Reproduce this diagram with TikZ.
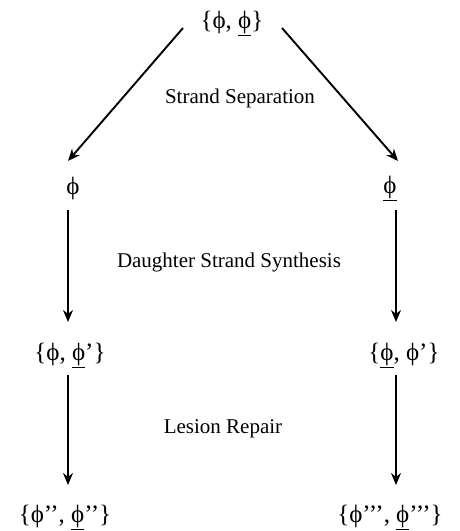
\documentclass[tikz,border=0pt]{standalone}
\usepackage{fontspec}
\setmainfont{Liberation Serif}
\usepackage{tikz}
\usetikzlibrary{arrows.meta,calc}

\begin{document}
\begin{tikzpicture}[x=1pt,y=1pt,
  font=\fontsize{21}{25}\selectfont,
  lbl/.style={inner sep=0pt,font=\fontsize{25}{29}\selectfont},
  sepa/.style={-{Stealth[length=12pt,width=10pt]},line width=1.9pt},
  down/.style={-{Stealth[length=12pt,width=10pt]},line width=1.2pt},
]
  \useasboundingbox (0,0) rectangle (459,531);

  \node[lbl] (top) at (232,508) {\{ϕ, \underline{ϕ}\}};
  \node[lbl] (sepL) at (73,343) {ϕ};
  \node[lbl] (sepR) at (390,343) {\underline{ϕ}};
  \node[lbl] (synL) at (70,176) {\{ϕ, \underline{ϕ}’\}};
  \node[lbl] (synR) at (404,176) {\{\underline{ϕ}, ϕ’\}};
  \node[lbl] (repL) at (65,14) {\{ϕ’’, \underline{ϕ}’’\}};
  \node[lbl] (repR) at (390,14) {\{ϕ’’’, \underline{ϕ}’’’\}};

  \node (sepText) at (240,433) {Strand Separation};
  \node (synText) at (229,269) {Daughter Strand Synthesis};
  \node (repText) at (223,102) {Lesion Repair};

  \draw[sepa] ([shift={(-49,-5)}]top.center) -- ([shift={(-5,27)}]sepL.center);
  \draw[sepa] ([shift={(50,-5)}]top.center) -- ([shift={(8,27)}]sepR.center);
  \draw[down] ([shift={(-5,-22)}]sepL.center) -- ([shift={(-2,33)}]synL.center);
  \draw[down] ([shift={(6,-22)}]sepR.center) -- ([shift={(-8,33)}]synR.center);
  \draw[down] ([shift={(-2,-20)}]synL.center) -- ([shift={(3,32)}]repL.center);
  \draw[down] ([shift={(-8,-20)}]synR.center) -- ([shift={(6,32)}]repR.center);
\end{tikzpicture}
\end{document}
